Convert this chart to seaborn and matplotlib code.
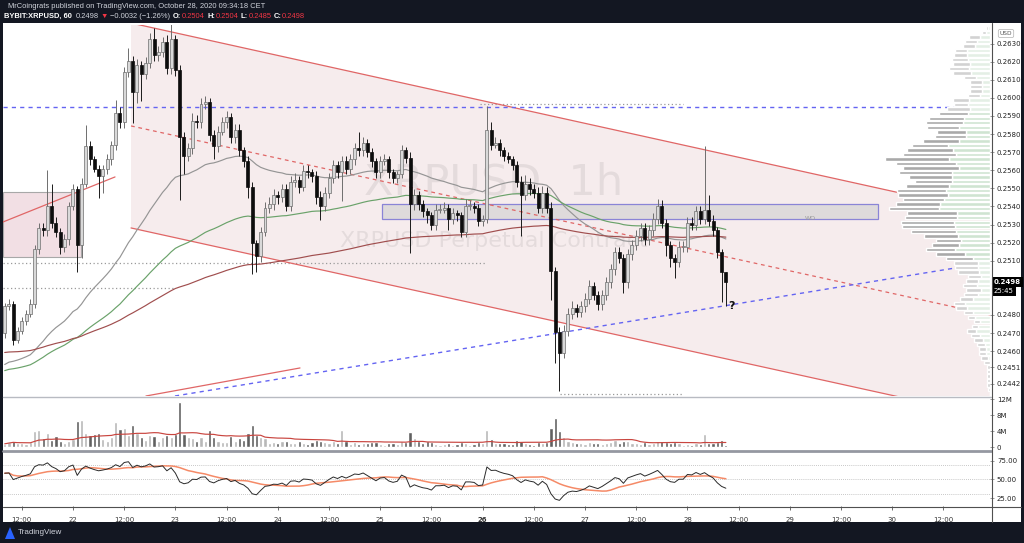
import numpy as np
import pandas as pd
import matplotlib
matplotlib.use("Agg")
import matplotlib.pyplot as plt
import seaborn as sns
from matplotlib.patches import Rectangle, Polygon, Arc
from matplotlib.lines import Line2D
import matplotlib.transforms as mtransforms

# ---------------- data (hourly candles, Oct 21 08:00 -> Oct 28 09:00) ----------------
first_open = 0.2470
closes = [
    0.24848, 0.24858, 0.24663, 0.24714, 0.24766, 0.24807, 0.24858, 0.25166, 0.25279, 0.25269,
    0.25403, 0.25310, 0.25259, 0.25177, 0.25218, 0.25403, 0.25495, 0.25187, 0.25526, 0.25732,
    0.25660, 0.25608, 0.25567, 0.25608, 0.25660, 0.25742, 0.25917, 0.25865, 0.26143, 0.26204,
    0.26030, 0.26184, 0.26132, 0.26194, 0.26328, 0.26235, 0.26256, 0.26307, 0.26163, 0.26328,
    0.26153, 0.25783, 0.25680, 0.25721, 0.25875, 0.25865, 0.25968, 0.25978, 0.25793, 0.25732,
    0.25814, 0.25865, 0.25896, 0.25783, 0.25824, 0.25711, 0.25649, 0.25506, 0.25197, 0.25125,
    0.25259, 0.25392, 0.25413, 0.25464, 0.25454, 0.25495, 0.25403, 0.25536, 0.25547, 0.25506,
    0.25598, 0.25588, 0.25567, 0.25454, 0.25403, 0.25475, 0.25557, 0.25629, 0.25588, 0.25649,
    0.25608, 0.25660, 0.25721, 0.25711, 0.25752, 0.25701, 0.25649, 0.25588, 0.25649, 0.25660,
    0.25588, 0.25557, 0.25577, 0.25711, 0.25670, 0.25413, 0.25464, 0.25413, 0.25372, 0.25351,
    0.25300, 0.25382, 0.25382, 0.25392, 0.25331, 0.25362, 0.25351, 0.25259, 0.25403, 0.25403,
    0.25392, 0.25321, 0.25331, 0.25824, 0.25742, 0.25752, 0.25711, 0.25680, 0.25660, 0.25629,
    0.25536, 0.25464, 0.25526, 0.25495, 0.25475, 0.25392, 0.25475, 0.25392, 0.25043, 0.24704,
    0.24591, 0.24714, 0.24807, 0.24838, 0.24817, 0.24848, 0.24889, 0.24961, 0.24910, 0.24858,
    0.24910, 0.24981, 0.25053, 0.25146, 0.25115, 0.24981, 0.25136, 0.25187, 0.25238, 0.25279,
    0.25218, 0.25269, 0.25331, 0.25403, 0.25310, 0.25187, 0.25115, 0.25095, 0.25177, 0.25177,
    0.25310, 0.25300, 0.25372, 0.25331, 0.25382, 0.25321, 0.25269, 0.25146, 0.25040, 0.24980,
]
# wick lengths in units of 0.0001
wick_up = [
    2, 3, 2, 2, 2, 2, 3, 2, 3, 3,
    20, 12, 3, 2, 3, 2, 3, 2, 3, 12,
    3, 2, 2, 2, 3, 2, 7, 3, 3, 7,
    3, 3, 2, 3, 3, 6, 3, 3, 4, 12,
    2, 3, 3, 3, 4, 3, 3, 3, 2, 3,
    3, 3, 3, 2, 3, 3, 2, 3, 3, 2,
    3, 3, 4, 3, 2, 3, 3, 3, 4, 2,
    3, 3, 2, 3, 3, 3, 3, 3, 2, 3,
    3, 3, 3, 9, 3, 2, 2, 2, 3, 3,
    2, 2, 2, 3, 2, 3, 3, 2, 2, 2,
    2, 3, 3, 3, 2, 3, 2, 2, 4, 3,
    2, 2, 2, 13, 4, 3, 2, 2, 2, 2,
    2, 3, 5, 3, 3, 3, 4, 3, 3, 2,
    3, 3, 3, 4, 2, 3, 3, 3, 2, 2,
    3, 3, 3, 3, 3, 2, 3, 3, 3, 3,
    3, 3, 3, 4, 3, 2, 2, 2, 3, 3,
    3, 3, 3, 3, 35, 8, 3, 2, 2, 0,
]
wick_dn = [
    3, 2, 3, 2, 2, 2, 2, 2, 3, 3,
    3, 3, 3, 4, 3, 3, 2, 15, 7, 2,
    3, 2, 12, 9, 3, 3, 3, 3, 3, 3,
    17, 6, 15, 3, 3, 3, 3, 3, 3, 3,
    3, 35, 10, 3, 3, 3, 3, 3, 3, 7,
    3, 2, 3, 3, 3, 3, 3, 6, 17, 9,
    3, 2, 3, 3, 4, 3, 3, 3, 3, 3,
    2, 3, 3, 4, 8, 3, 3, 3, 3, 16,
    3, 3, 3, 3, 3, 3, 3, 3, 3, 2,
    3, 3, 3, 2, 3, 27, 3, 3, 3, 4,
    3, 3, 2, 2, 6, 3, 3, 3, 3, 2,
    3, 3, 3, 2, 3, 2, 3, 3, 2, 3,
    3, 23, 3, 3, 3, 3, 3, 3, 16, 17,
    21, 3, 3, 3, 3, 3, 3, 3, 3, 3,
    3, 3, 3, 3, 3, 6, 3, 3, 3, 3,
    3, 3, 3, 3, 3, 6, 5, 9, 3, 3,
    3, 3, 3, 3, 3, 3, 3, 3, 17, 13,
]
volumes_m = [
    0.8, 1.2, 1.5, 0.9, 1.0, 0.8, 1.2, 3.9, 4.3, 2.2,
    3.6, 1.8, 2.8, 1.6, 0.9, 1.5, 2.0, 6.4, 6.8, 3.5,
    3.0, 3.2, 3.4, 2.0, 1.6, 2.4, 6.2, 4.4, 4.8, 3.0,
    5.6, 3.4, 2.6, 1.8, 3.0, 2.8, 1.4, 2.4, 2.9, 2.5,
    3.2, 11.3, 3.2, 2.6, 2.2, 1.5, 2.4, 1.6, 4.2, 2.6,
    1.6, 1.2, 1.3, 2.8, 1.4, 2.3, 1.8, 3.6, 5.5, 3.0,
    2.6, 2.2, 1.0, 1.2, 0.9, 1.4, 1.5, 1.1, 0.9, 1.6,
    1.0, 0.8, 1.2, 1.8, 1.5, 1.2, 0.9, 1.4, 1.1, 4.2,
    1.6, 0.8, 1.2, 0.7, 1.0, 0.9, 1.2, 1.3, 0.8, 0.6,
    1.0, 0.9, 0.7, 1.6, 1.2, 3.7, 2.2, 1.4, 1.1, 1.5,
    1.2, 0.8, 0.5, 0.7, 1.0, 0.6, 0.8, 1.3, 1.0, 0.6,
    0.7, 1.2, 0.9, 4.2, 2.0, 1.0, 0.9, 1.1, 0.8, 0.7,
    1.8, 1.4, 0.9, 0.8, 0.6, 1.3, 0.9, 1.2, 4.8, 7.3,
    4.0, 2.5, 1.6, 1.2, 0.9, 1.0, 0.8, 1.3, 1.0, 0.9,
    0.7, 1.1, 1.3, 1.8, 1.0, 1.6, 1.4, 1.0, 0.9, 0.8,
    1.2, 0.7, 1.0, 1.5, 1.4, 1.2, 1.1, 1.3, 0.9, 0.6,
    0.8, 0.6, 0.9, 0.7, 3.2, 1.0, 0.9, 1.3, 1.8, 0.6,
]

# moving-average seeds read at the left edge
ema_seeds = {50: 0.24513, 100: 0.24485, 200: 0.24590}
rsi_seed_gain, rsi_seed_loss = 0.00045, 0.00040

# axis ticks / labels
time_tick_pos = [4, 16, 28, 40, 52, 64, 76, 88, 100, 112, 124, 136, 148, 160, 172, 184, 196, 208, 220]
time_tick_labels = ["12:00", "22", "12:00", "23", "12:00", "24", "12:00", "25", "12:00", "26",
                    "12:00", "27", "12:00", "28", "12:00", "29", "12:00", "30", "12:00"]
price_ticks = [0.2630, 0.2620, 0.2610, 0.2600, 0.2590, 0.2580, 0.2570, 0.2560, 0.2550, 0.2540,
               0.2530, 0.2520, 0.2510, 0.2480, 0.2470, 0.2460, 0.2451, 0.2442]
vol_ticks = [0, 4, 8, 12]
vol_tick_labels = ["0", "4M", "8M", "12M"]
rsi_ticks = [25, 50, 75]
rsi_tick_labels = ["25.00", "50.00", "75.00"]
rsi_bands = [30, 50, 70]

# drawings (candle index, price)
channel_x = [29.6, 231.0]
channel_upper = [0.26414, 0.25364]
channel_mid = [0.25845, 0.24800]
channel_lower = [0.25281, 0.24236]
hline_blue = 0.25948
asc_blue_x, asc_blue_p = [39.9, 231.6], [0.24352, 0.25094]
red_low_x, red_low_p = [33.1, 69.2], [0.24352, 0.24507]
red_left_x, red_left_p = [-0.4, 25.85], [0.25314, 0.25563]
dotted_levels = [(0.25087, -0.4, 112.6), (0.24951, -0.4, 39.9),
                 (0.25966, 111.4, 159.0), (0.24363, 130.1, 159.0)]
left_rect_x, left_rect_p = [-0.4, 17.9], [0.25120, 0.25480]
box_x, box_p = [88.4, 204.7], [0.25330, 0.25413]
arcs = [  # cx, cy, width, height, theta1, theta2
    (129.7, 0.24507, 6.8, 0.00122, 190, 350),
    (153.1, 0.25408, 6.1, 0.00088, 15, 165),
    (164.1, 0.25413, 5.9, 0.00077, 15, 165),
    (157.1, 0.25043, 6.1, 0.00088, 195, 345),
]
question_pos = (170.4, 0.24850)
last_price = 0.2498
last_price_label = "0.2498"
countdown_label = "25:45"
y_limits = (0.24352, 0.26403)

# ---------------- derived ----------------
n = len(closes)
idx = np.arange(n)
c = np.array(closes)
o = np.array([first_open] + closes[:-1])
hi = np.maximum(o, c) + np.array(wick_up) * 1e-4
lo = np.minimum(o, c) - np.array(wick_dn) * 1e-4
vol = np.array(volumes_m)
up = c >= o

df = pd.DataFrame({"i": idx, "close": c, "vol": vol})
for span, seed in ema_seeds.items():
    df[f"ema{span}"] = pd.Series([seed] + closes).ewm(span=span, adjust=False).mean().values[1:]
df["vol_ma"] = df["vol"].rolling(20, min_periods=1).mean()
diff = np.diff(np.concatenate([[first_open], c]))
g = pd.Series([rsi_seed_gain] + list(np.clip(diff, 0, None))).ewm(alpha=1 / 14, adjust=False).mean().values[1:]
l = pd.Series([rsi_seed_loss] + list(np.clip(-diff, 0, None))).ewm(alpha=1 / 14, adjust=False).mean().values[1:]
df["rsi"] = 100 - 100 / (1 + g / l)
df["rsi_ma"] = df["rsi"].rolling(14, min_periods=1).mean()

# ---------------- figure ----------------
sns.set_style("white")
plt.rcParams["font.family"] = ["DejaVu Sans"]
W, H = 1024, 543
BG = "#131722"
fig = plt.figure(figsize=(W / 100, H / 100), dpi=100, facecolor=BG)


def fx(x):
    return x / W


def fy(y):
    return 1 - y / H


fig.add_artist(Rectangle((fx(3), fy(522)), fx(1021) - fx(3), fy(23) - fy(522),
                         transform=fig.transFigure, facecolor="white", edgecolor="none", zorder=0))

XL, XR = 3, 990
ax = fig.add_axes([fx(XL), fy(396), fx(XR) - fx(XL), fy(25) - fy(396)])
axv = fig.add_axes([fx(XL), fy(450), fx(XR) - fx(XL), fy(397) - fy(450)])
axr = fig.add_axes([fx(XL), fy(506), fx(XR) - fx(XL), fy(451) - fy(506)])
xlim = (-0.4, 230.9)
for a in (ax, axv, axr):
    a.set_xlim(*xlim)
    a.set_facecolor("white")
    for s in a.spines.values():
        s.set_visible(False)
    a.yaxis.tick_right()
    a.tick_params(axis="y", which="both", right=True, length=3, width=0.6, color="#8a8a8a",
                  labelsize=5, labelcolor="#222", pad=2)

ax.set_ylim(*y_limits)

# channel fill + lines
poly = [(channel_x[0], channel_upper[0]), (channel_x[1], channel_upper[1]),
        (channel_x[1], channel_lower[1]), (channel_x[0], channel_lower[0])]
ax.add_patch(Polygon(poly, closed=True, facecolor="#f6eced", edgecolor="none", zorder=0.5))
ax.plot(channel_x, channel_upper, color="#e06666", lw=0.9, zorder=2)
ax.plot(channel_x, channel_lower, color="#e06666", lw=0.9, zorder=2)
ax.plot(channel_x, channel_mid, color="#e06666", lw=0.9, ls=(0, (3, 3)), zorder=2)

# watermark
ax.text(0.497, 0.575, "XRPUSD, 1h", transform=ax.transAxes, ha="center", va="center",
        fontsize=31, color="#000000", alpha=0.07, zorder=0.6)
ax.text(0.497, 0.418, "XRPUSD Perpetual Contract", transform=ax.transAxes, ha="center", va="center",
        fontsize=16, color="#000000", alpha=0.07, zorder=0.6)

# left rectangle and gray box
ax.add_patch(Rectangle((left_rect_x[0], left_rect_p[0]), left_rect_x[1] - left_rect_x[0],
                       left_rect_p[1] - left_rect_p[0], facecolor="#f2dfe4", edgecolor="#a8a8a8",
                       lw=0.8, zorder=0.7))
ax.add_patch(Rectangle((box_x[0], box_p[0]), box_x[1] - box_x[0], box_p[1] - box_p[0],
                       facecolor="#cfcfcf", alpha=0.6, edgecolor="none", zorder=1))
ax.add_patch(Rectangle((box_x[0], box_p[0]), box_x[1] - box_x[0], box_p[1] - box_p[0],
                       facecolor="none", edgecolor="#8a84d6", lw=0.9, zorder=1.1))
ax.text(188.7, 0.25336, "WO", fontsize=4.5, color="#9a9a9a", ha="center", va="center", zorder=1.2)

# other lines
BLUE = "#6464f2"
ax.axhline(hline_blue, color=BLUE, lw=1.0, ls=(0, (3, 3)), zorder=2)
ax.plot(asc_blue_x, asc_blue_p, color=BLUE, lw=1.0, ls=(0, (3, 3)), zorder=2)
ax.plot(red_low_x, red_low_p, color="#e06666", lw=0.9, zorder=2)
ax.plot(red_left_x, red_left_p, color="#e06666", lw=0.9, zorder=2)
for p, x0, x1 in dotted_levels:
    ax.plot([x0, x1], [p, p], color="#9a9a9a", lw=0.9, ls=(0, (1, 2)), zorder=1.5)

# EMAs
sns.lineplot(data=df, x="i", y="ema50", ax=ax, color="#959595", lw=0.85, zorder=2.2)
sns.lineplot(data=df, x="i", y="ema100", ax=ax, color="#6aa26a", lw=0.85, zorder=2.2)
sns.lineplot(data=df, x="i", y="ema200", ax=ax, color="#a04e4e", lw=0.85, zorder=2.2)

# candles
wick_col = np.where(up, "#6e6e6e", "#1a1a1a")
ax.vlines(idx, lo, hi, colors=wick_col, lw=0.7, zorder=3)
body = np.maximum(np.abs(c - o), 0.00004)
ax.bar(idx, body, bottom=np.minimum(o, c), width=0.7,
       color=np.where(up, "#d9d9d9", "#0d0d0d"), edgecolor=np.where(up, "#6e6e6e", "#0d0d0d"),
       linewidth=0.5, zorder=3.2)

# arcs and question mark
for cx, cy, w, h, t1, t2 in arcs:
    ax.add_patch(Arc((cx, cy), w, h, theta1=t1, theta2=t2, color="#e53935", lw=1.1, zorder=4))
ax.text(question_pos[0], question_pos[1], "?", fontsize=8, fontweight="bold", color="#111",
        ha="center", va="center", zorder=4)

# volume profile (visible range), computed from the candles
edges = np.arange(0.2435, 0.26426, 0.00025)
centers = (edges[:-1] + edges[1:]) / 2
prof_up = np.zeros(len(centers))
prof_dn = np.zeros(len(centers))
for k in range(n):
    rng = max(hi[k] - lo[k], 1e-6)
    ov = np.clip(np.minimum(hi[k], edges[1:]) - np.maximum(lo[k], edges[:-1]), 0, None) / rng
    if up[k]:
        prof_up += ov * vol[k]
    else:
        prof_dn += ov * vol[k]
tot = prof_up + prof_dn
order = np.argsort(tot)[::-1]
cum = np.cumsum(tot[order]) / tot.sum()
va = np.zeros(len(tot), bool)
va[order[: np.searchsorted(cum, 0.70) + 1]] = True
vp = ax.twiny()
vp.set_xlim(tot.max() * (XR - XL) / 105, 0)
vp.axis("off")
vp.barh(centers, prof_up, left=0, height=0.00019,
        color=np.where(va, "#cfe4d1", "#e4efe5"), zorder=1)
vp.barh(centers, prof_dn, left=prof_up, height=0.00019,
        color=np.where(va, "#a9a9a9", "#d2d2d2"), zorder=1)

ax.set_yticks(price_ticks)
ax.set_yticklabels([f"{p:.4f}" for p in price_ticks])
ax.set_xticks(time_tick_pos)
ax.tick_params(axis="x", length=0, labelbottom=False)
ax.set_xlabel("")
ax.set_ylabel("")

trans = mtransforms.blended_transform_factory(ax.transAxes, ax.transData)
ax.text(1.004, last_price, last_price_label, transform=trans, fontsize=5, color="white", ha="left",
        va="center", fontweight="bold", clip_on=False, zorder=10,
        bbox=dict(boxstyle="square,pad=0.3", fc="black", ec="none"))
ax.text(1.004, last_price - 0.00048, countdown_label, transform=trans, fontsize=5, color="white",
        ha="left", va="center", clip_on=False, zorder=10,
        bbox=dict(boxstyle="square,pad=0.3", fc="black", ec="none"))

# volume panel
axv.bar(idx, vol, width=0.75, color=np.where(up, "#b8b8b8", "#606060"), zorder=2)
sns.lineplot(data=df, x="i", y="vol_ma", ax=axv, color="#c9453f", lw=0.85, zorder=3)
axv.set_ylim(-0.74, 12.5)
axv.set_yticks(vol_ticks)
axv.set_yticklabels(vol_tick_labels)
axv.set_xticks(time_tick_pos)
axv.tick_params(axis="x", length=0, labelbottom=False)
axv.set_xlabel("")
axv.set_ylabel("")

# RSI panel
for b in rsi_bands:
    axr.axhline(b, color="#b5b5b5", lw=0.6, ls=(0, (1, 1.5)), zorder=1)
sns.lineplot(data=df, x="i", y="rsi_ma", ax=axr, color="#f58a67", lw=1.1, zorder=2)
sns.lineplot(data=df, x="i", y="rsi", ax=axr, color="#2a2a2a", lw=0.7, zorder=3)
axr.set_ylim(14.2, 88.5)
axr.set_yticks(rsi_ticks)
axr.set_yticklabels(rsi_tick_labels)
axr.set_xticks(time_tick_pos)
axr.set_xticklabels(time_tick_labels)
axr.tick_params(axis="x", bottom=True, length=3, width=0.6, color="#555", labelsize=5,
                labelcolor="#333", pad=5)
for t, lab in zip(axr.get_xticklabels(), time_tick_labels):
    if lab == "26":
        t.set_fontweight("bold")
axr.set_xlabel("")
axr.set_ylabel("")

# panel separators / frame lines
fig.add_artist(Line2D([fx(3), fx(991)], [fy(396.5)] * 2, color="#b8bbc2", lw=1.0))
fig.add_artist(Line2D([fx(3), fx(991)], [fy(450.5)] * 2, color="#9598a1", lw=2.0))
fig.add_artist(Line2D([fx(3), fx(1021)], [fy(506.5)] * 2, color="#505050", lw=0.8))
fig.add_artist(Line2D([fx(991.5)] * 2, [fy(522), fy(23)], color="#505050", lw=0.8))

# USD tag
fig.text(fx(1006), fy(33.5), "USD", fontsize=4.2, color="#555", ha="center", va="center",
         bbox=dict(boxstyle="round,pad=0.25", fc="white", ec="#b0b0b0", lw=0.5))

# header
hdr_font = ["Liberation Sans", "DejaVu Sans"]
fig.text(fx(8), fy(6.5), "MrCoingrats published on TradingView.com, October 28, 2020 09:34:18 CET",
         fontsize=5.4, color="#d1d4dc", ha="left", va="center", family=hdr_font)
RED = "#f23645"
pieces = [  # text, colour, weight, gap after (px)
    ("BYBIT:XRPUSD, 60", "#ffffff", "bold", 4),
    ("0.2498", "#d1d4dc", "normal", 2),
    ("\u25bc", RED, "normal", 2),
    ("\u22120.0032 (\u22121.26%)", "#d1d4dc", "normal", 3),
    ("O:", "#ffffff", "bold", 0.5), ("0.2504", RED, "normal", 2.5),
    ("H:", "#ffffff", "bold", 0.5), ("0.2504", RED, "normal", 2.5),
    ("L:", "#ffffff", "bold", 0.5), ("0.2485", RED, "normal", 2.5),
    ("C:", "#ffffff", "bold", 0.5), ("0.2498", RED, "normal", 0),
]
renderer = fig.canvas.get_renderer()
xcur = 3.5
for txt, col, wt, gap in pieces:
    t = fig.text(fx(xcur), fy(16), txt, fontsize=5.4, color=col, ha="left", va="center",
                 fontweight=wt, family=hdr_font)
    bb = t.get_window_extent(renderer)
    xcur = bb.x1 + gap

# footer logo
fig.add_artist(Polygon([(fx(5), fy(539)), (fx(10), fy(527)), (fx(15), fy(539))],
                       closed=True, transform=fig.transFigure, facecolor="#2962ff", edgecolor="none"))
fig.text(fx(18), fy(533), "TradingView", fontsize=5.8, color="#d1d4dc", ha="left", va="center",
         family=hdr_font)

fig.savefig("out.png", dpi=100, facecolor=BG)
